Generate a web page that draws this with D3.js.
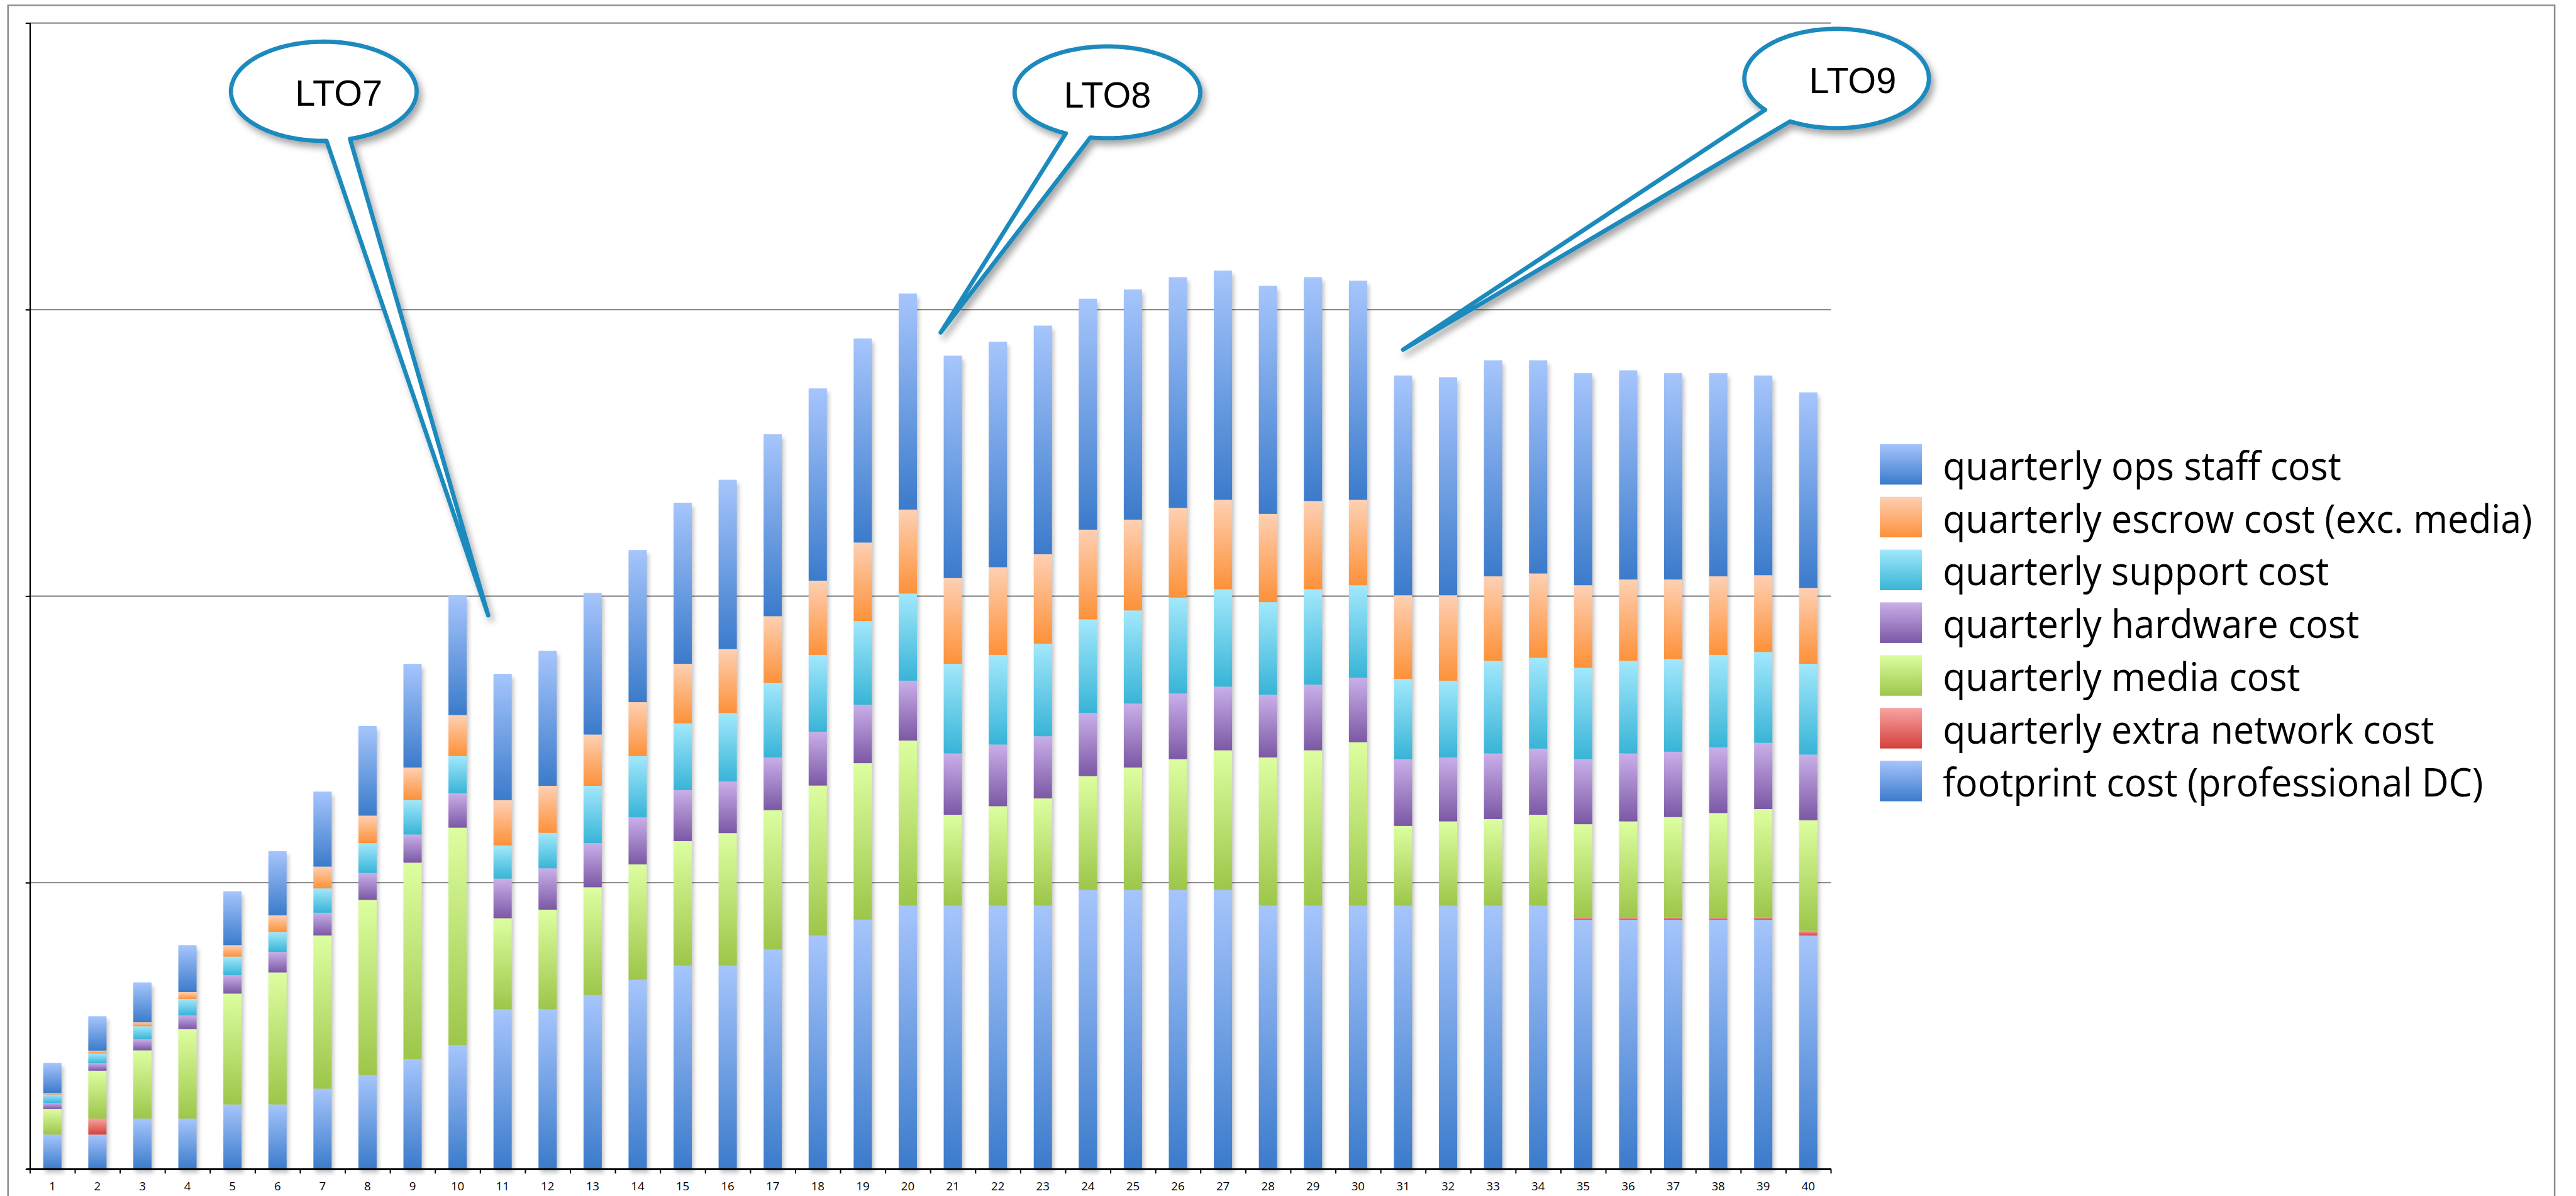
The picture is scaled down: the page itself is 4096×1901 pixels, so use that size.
<!DOCTYPE html>
<html>
<head>
<meta charset="utf-8">
<script src="https://cdn.jsdelivr.net/npm/d3@7"></script>
<style>
  html, body { margin: 0; padding: 0; background: #ffffff; overflow: hidden; }
  svg { display: block; }
</style>
</head>
<body>
<svg id="chart"></svg>
<script>
// ---- data -------------------------------------------------------------
const quarters = d3.range(1, 41).map(String);

const footprintCost = [0.121,0.121,0.177,0.177,0.226,0.226,0.281,0.329,0.385,0.433,
                       0.558,0.558,0.608,0.662,0.711,0.711,0.767,0.816,0.871,0.920,
                       0.920,0.920,0.920,0.975,0.975,0.975,0.975,0.920,0.920,0.920,
                       0.920,0.920,0.920,0.920,0.871,0.871,0.871,0.871,0.871,0.816];
const networkCost   = [0,0.056,0,0,0,0,0,0,0,0,
                       0,0,0,0,0,0,0,0,0,0,
                       0,0,0,0,0,0,0,0,0,0,
                       0,0,0,0,0.006,0.006,0.008,0.006,0.008,0.016];
const mediaCost     = [0.089,0.167,0.238,0.312,0.387,0.461,0.535,0.611,0.685,0.759,
                       0.318,0.348,0.376,0.402,0.434,0.462,0.486,0.523,0.546,0.576,
                       0.317,0.347,0.374,0.397,0.427,0.456,0.487,0.517,0.542,0.570,
                       0.278,0.294,0.302,0.317,0.327,0.337,0.350,0.366,0.378,0.386];
const hardwareCost  = [0.021,0.026,0.039,0.048,0.064,0.071,0.079,0.094,0.098,0.120,
                       0.138,0.144,0.154,0.164,0.178,0.180,0.184,0.188,0.204,0.209,
                       0.214,0.215,0.217,0.220,0.223,0.229,0.222,0.219,0.229,0.225,
                       0.233,0.223,0.229,0.231,0.227,0.237,0.228,0.229,0.231,0.229];
const supportCost   = [0.030,0.034,0.045,0.057,0.065,0.070,0.085,0.104,0.120,0.130,
                       0.116,0.124,0.200,0.214,0.233,0.239,0.260,0.268,0.292,0.304,
                       0.313,0.313,0.323,0.327,0.325,0.335,0.340,0.323,0.333,0.323,
                       0.280,0.268,0.323,0.317,0.319,0.323,0.323,0.323,0.317,0.317];
const escrowCost    = [0.005,0.010,0.014,0.024,0.040,0.058,0.076,0.096,0.114,0.143,
                       0.158,0.164,0.179,0.188,0.208,0.223,0.233,0.259,0.274,0.293,
                       0.299,0.306,0.312,0.313,0.317,0.313,0.312,0.308,0.308,0.298,
                       0.292,0.298,0.295,0.294,0.288,0.284,0.278,0.274,0.268,0.264];
const opsStaffCost  = [0.105,0.120,0.139,0.164,0.188,0.224,0.262,0.313,0.362,0.418,
                       0.441,0.471,0.494,0.531,0.562,0.591,0.635,0.671,0.712,0.754,
                       0.776,0.787,0.798,0.806,0.803,0.805,0.800,0.796,0.781,0.765,
                       0.767,0.761,0.754,0.744,0.740,0.730,0.720,0.709,0.697,0.683];

// stacking order, bottom to top
const seriesKeys   = ["footprint", "network", "media", "hardware", "support", "escrow", "ops"];
const seriesLabels = ["footprint cost (professional DC)",
                      "quarterly extra network cost",
                      "quarterly media cost",
                      "quarterly hardware cost",
                      "quarterly support cost",
                      "quarterly escrow cost (exc. media)",
                      "quarterly ops staff cost"];
const yTickValues  = [0, 1, 2, 3, 4];

// tape generation markers: label and the point (quarter position, cost) they point at
const generationLabels = ["LTO7", "LTO8", "LTO9"];
const generationQuarter = [10.18, 20.23, 30.5];
const generationCost    = [1.933, 2.92, 2.86];

// ---- styling ----------------------------------------------------------
const gradientStops = {
  footprint: ["#a6c5fc", "#3b7bcb"],
  network:   ["#f8a4a2", "#d4403c"],
  media:     ["#ddfea0", "#9dc64a"],
  hardware:  ["#c9afe9", "#7b58a5"],
  support:   ["#a2e8fc", "#38b4d7"],
  escrow:    ["#fed0b3", "#fd9139"],
  ops:       ["#a6c5fc", "#3b7bcb"]
};
const calloutBlue = "#1b8abd";

// ---- canvas (drawn in a 4829 x 2241 space, shown at 4096 x 1901) ------
const W = 4829, H = 2241;
const svg = d3.select("#chart")
  .attr("width", 4096).attr("height", 1901)
  .attr("viewBox", `0 0 ${W} ${H}`);

const plot = { left: 56, right: 3432, top: 43, bottom: 2191 };

const defs = svg.append("defs");
seriesKeys.forEach(k => {
  const g = defs.append("linearGradient").attr("id", "grad-" + k)
    .attr("x1", 0).attr("y1", 0).attr("x2", 0).attr("y2", 1);
  g.append("stop").attr("offset", "0%").attr("stop-color", gradientStops[k][0]);
  g.append("stop").attr("offset", "100%").attr("stop-color", gradientStops[k][1]);
});
const blur = defs.append("filter").attr("id", "barBlur")
  .attr("x", "-50%").attr("y", "-20%").attr("width", "200%").attr("height", "140%");
blur.append("feGaussianBlur").attr("stdDeviation", 4);

const bubbleShadow = defs.append("filter").attr("id", "bubbleShadow")
  .attr("x", "-20%").attr("y", "-20%").attr("width", "150%").attr("height", "150%");
bubbleShadow.append("feDropShadow")
  .attr("dx", 6).attr("dy", 9).attr("stdDeviation", 6)
  .attr("flood-color", "#000").attr("flood-opacity", 0.35);

// ---- scales -----------------------------------------------------------
const table = quarters.map((q, i) => ({
  quarter: q,
  footprint: footprintCost[i],
  network: networkCost[i],
  media: mediaCost[i],
  hardware: hardwareCost[i],
  support: supportCost[i],
  escrow: escrowCost[i],
  ops: opsStaffCost[i]
}));
const stacked = d3.stack().keys(seriesKeys)(table);

const inner = 0.595;
const x = d3.scaleBand().domain(quarters)
  .range([plot.left, plot.right]).paddingInner(inner).paddingOuter(inner / 2);
const xPos = d3.scaleLinear().domain([0, quarters.length]).range([plot.left, plot.right]);
const y = d3.scaleLinear().domain([0, 4]).range([plot.bottom, plot.top]);

// ---- outer frame ------------------------------------------------------
svg.append("path")
  .attr("d", `M15,${H + 10} V10 H4789 V${H + 10}`)
  .attr("fill", "none").attr("stroke", "#8e8e8e").attr("stroke-width", 3);

// ---- gridlines --------------------------------------------------------
svg.append("g").selectAll("line")
  .data(yTickValues.filter(v => v > 0))
  .join("line")
  .attr("x1", plot.left).attr("x2", plot.right)
  .attr("y1", d => y(d)).attr("y2", d => y(d))
  .attr("stroke", "#8e8e8e").attr("stroke-width", 2.6);

// ---- bar shadows ------------------------------------------------------
svg.append("g")
  .attr("transform", "translate(4,7)")
  .selectAll("rect")
  .data(stacked[stacked.length - 1])
  .join("rect")
  .attr("x", d => x(d.data.quarter))
  .attr("width", x.bandwidth())
  .attr("y", d => y(d[1]))
  .attr("height", d => y(0) - y(d[1]))
  .attr("fill", "#000").attr("opacity", 0.22)
  .attr("filter", "url(#barBlur)");

// ---- stacked bars -----------------------------------------------------
svg.append("g").selectAll("g")
  .data(stacked)
  .join("g")
  .attr("fill", s => `url(#grad-${s.key})`)
  .selectAll("rect")
  .data(s => s.filter(d => d[1] - d[0] > 0))
  .join("rect")
  .attr("x", d => x(d.data.quarter))
  .attr("width", x.bandwidth())
  .attr("y", d => y(d[1]))
  .attr("height", d => y(d[0]) - y(d[1]));

// ---- axes -------------------------------------------------------------
const yAxis = svg.append("g")
  .attr("transform", `translate(${plot.left},0)`)
  .call(d3.axisLeft(y).tickValues(yTickValues).tickFormat("").tickSize(8).tickSizeOuter(0));
yAxis.select(".domain").attr("stroke", "#000").attr("stroke-width", 2.6);
yAxis.selectAll(".tick line").attr("stroke", "#000").attr("stroke-width", 2.6);

const xTicks = svg.append("g")
  .attr("transform", `translate(0,${plot.bottom})`)
  .call(d3.axisBottom(xPos).tickValues(d3.range(0, quarters.length + 1))
    .tickFormat("").tickSize(8).tickSizeOuter(0));
xTicks.select(".domain").remove();
xTicks.selectAll(".tick line").attr("stroke", "#000").attr("stroke-width", 2.4);
svg.append("line")
  .attr("x1", plot.left - 7).attr("x2", plot.right + 1)
  .attr("y1", plot.bottom).attr("y2", plot.bottom)
  .attr("stroke", "#000").attr("stroke-width", 3.4);

const xLabels = svg.append("g")
  .attr("transform", `translate(0,${plot.bottom})`)
  .call(d3.axisBottom(x).tickSize(0).tickPadding(0));
xLabels.select(".domain").remove();
xLabels.selectAll("text")
  .attr("dy", null).attr("y", 40)
  .attr("fill", "#000")
  .style("font-family", "'Open Sans', 'Noto Sans', sans-serif")
  .style("font-size", "22px");

// ---- legend -----------------------------------------------------------
const legendOrder = d3.range(seriesKeys.length).reverse();
const legend = svg.append("g");
const rows = legend.selectAll("g")
  .data(legendOrder)
  .join("g")
  .attr("transform", (d, i) => `translate(3524,${832 + i * 98.9})`);
rows.append("rect")
  .attr("width", 79).attr("height", 76)
  .attr("fill", d => `url(#grad-${seriesKeys[d]})`);
const legendText = rows.append("text")
  .attr("y", 67)
  .attr("fill", "#000")
  .style("font-family", "'Open Sans', 'Noto Sans', sans-serif")
  .style("font-size", "73px")
  .text(d => seriesLabels[d]);
// narrow the legend type to the width of its longest entry
let longest = 0;
legendText.each(function () { longest = Math.max(longest, this.getComputedTextLength()); });
const squeeze = 1105 / longest;
legendText.attr("transform", `translate(118,0) scale(${squeeze},1)`);

// ---- generation call-outs --------------------------------------------
const bubbles = [
  { cx: 607,  cy: 171, rx: 174, ry: 93, a1: 88.3,  a2: 73.6,  tx: 635,  ty: 198 },
  { cx: 2076, cy: 173, rx: 174, ry: 86, a1: 116.6, a2: 100.6, tx: 2076, ty: 202 },
  { cx: 3443, cy: 147, rx: 173, ry: 93, a1: 140.8, a2: 120.2, tx: 3473, ty: 174 }
];

function bubblePath(b, tip) {
  const rad = Math.PI / 180;
  const at = a => [b.cx + b.rx * Math.cos(a), b.cy + b.ry * Math.sin(a)];
  const a1 = b.a1 * rad, a2 = b.a2 * rad;
  const pts = [at(a1), tip, at(a2)];
  const sweep = 2 * Math.PI - (a1 - a2);
  const n = 240;
  for (let i = 1; i < n; i++) pts.push(at(a2 - sweep * i / n));
  return d3.line()(pts) + "Z";
}

const callouts = svg.append("g").selectAll("g")
  .data(generationLabels)
  .join("g");
callouts.append("path")
  .attr("d", (d, i) => bubblePath(bubbles[i], [xPos(generationQuarter[i]), y(generationCost[i])]))
  .attr("fill", "#fff")
  .attr("stroke", calloutBlue)
  .attr("stroke-width", 8)
  .attr("stroke-linejoin", "round")
  .attr("filter", "url(#bubbleShadow)");
callouts.append("text")
  .attr("x", (d, i) => bubbles[i].tx)
  .attr("y", (d, i) => bubbles[i].ty)
  .attr("text-anchor", "middle")
  .attr("fill", "#000")
  .style("font-family", "'Liberation Sans', Arial, sans-serif")
  .style("font-size", "68px")
  .text(d => d);
</script>
</body>
</html>
